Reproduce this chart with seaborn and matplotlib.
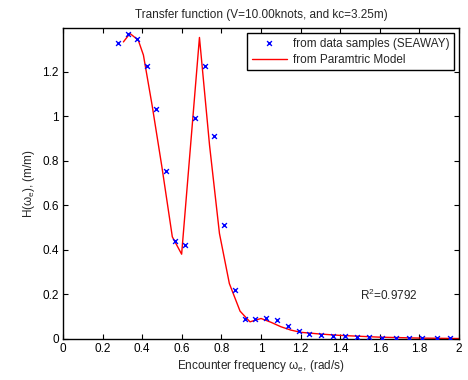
import numpy as np
import pandas as pd
import matplotlib
matplotlib.use("Agg")
import matplotlib.pyplot as plt
import seaborn as sns

# data samples (SEAWAY)
w_data = [0.279, 0.327, 0.375, 0.423, 0.468, 0.520, 0.566, 0.616, 0.668, 0.717,
          0.763, 0.813, 0.867, 0.921, 0.970, 1.024, 1.082, 1.135, 1.192, 1.244,
          1.303, 1.362, 1.424, 1.483, 1.545, 1.613, 1.680, 1.747, 1.815, 1.887, 1.955]
h_data = [1.328, 1.369, 1.350, 1.227, 1.033, 0.753, 0.440, 0.423, 0.995, 1.225,
          0.911, 0.513, 0.218, 0.088, 0.089, 0.093, 0.085, 0.059, 0.035, 0.022,
          0.019, 0.014, 0.013, 0.008, 0.008, 0.005, 0.005, 0.005, 0.005, 0.005, 0.005]

# parametric model curve
w_model = [0.305, 0.338, 0.380, 0.406, 0.45, 0.50, 0.552, 0.599, 0.689, 0.740,
           0.790, 0.840, 0.894, 0.944, 1.0, 1.05, 1.10, 1.15, 1.20, 1.30, 1.40,
           1.50, 1.60, 1.70, 1.80, 1.90, 2.0]
h_model = [1.335, 1.373, 1.343, 1.276, 1.05, 0.77, 0.459, 0.381, 1.355, 0.87,
           0.474, 0.249, 0.125, 0.077, 0.092, 0.075, 0.055, 0.040, 0.030, 0.022,
           0.016, 0.012, 0.008, 0.006, 0.004, 0.003, 0.002]

r2_text = "R$^2$=0.9792"

sns.set_style("ticks")
plt.rcParams['font.family'] = ['Liberation Sans', 'DejaVu Sans']
plt.rcParams['mathtext.fontset'] = 'custom'
plt.rcParams['mathtext.rm'] = 'Liberation Sans'
plt.rcParams['mathtext.it'] = 'Liberation Sans'

fs = 8.5
fig = plt.figure(figsize=(4.68, 3.8), dpi=100)
ax = fig.add_axes([0.1346, 0.108, 0.8464, 0.818])

df_data = pd.DataFrame({"w": w_data, "h": h_data})
df_model = pd.DataFrame({"w": w_model, "h": h_model})

sns.scatterplot(data=df_data, x="w", y="h", ax=ax, marker="x", color="blue",
                s=12, linewidth=1.0, label="from data samples (SEAWAY)", zorder=3)
sns.lineplot(data=df_model, x="w", y="h", ax=ax, color="red", linewidth=1.0,
             label="from Paramtric Model", zorder=2)

ax.set_xlim(0, 2)
ax.set_ylim(0, 1.397)
ax.set_xticks(np.arange(0, 2.01, 0.2))
ax.set_xticklabels(["0", "0.2", "0.4", "0.6", "0.8", "1", "1.2", "1.4", "1.6", "1.8", "2"])
ax.set_yticks([0, 0.2, 0.4, 0.6, 0.8, 1.0, 1.2])
ax.set_yticklabels(["0", "0.2", "0.4", "0.6", "0.8", "1", "1.2"])
ax.tick_params(direction="in", top=True, right=True, length=3.5, width=0.8,
               labelsize=fs, colors="black", pad=3)
for sp in ax.spines.values():
    sp.set_color("black")
    sp.set_linewidth(1.0)

ax.set_xlabel(r"Encounter frequency $\omega_e$, (rad/s)", fontsize=fs, labelpad=2)
ax.set_ylabel(r"H($\omega_e$), (m/m)", fontsize=fs, labelpad=4)
ax.set_title("Transfer function (V=10.00knots, and kc=3.25m)", fontsize=fs, pad=7)

ax.text(1.5, 0.175, r2_text, fontsize=fs, ha="left", va="baseline")

leg = ax.legend(loc="upper right", fontsize=fs, frameon=True, fancybox=False,
                edgecolor="black", framealpha=1, borderaxespad=0.4,
                handlelength=3.0, handletextpad=0.5, borderpad=0.4,
                labelspacing=0.35)
leg.get_frame().set_linewidth(1.0)

fig.savefig("out.png", dpi=100)
